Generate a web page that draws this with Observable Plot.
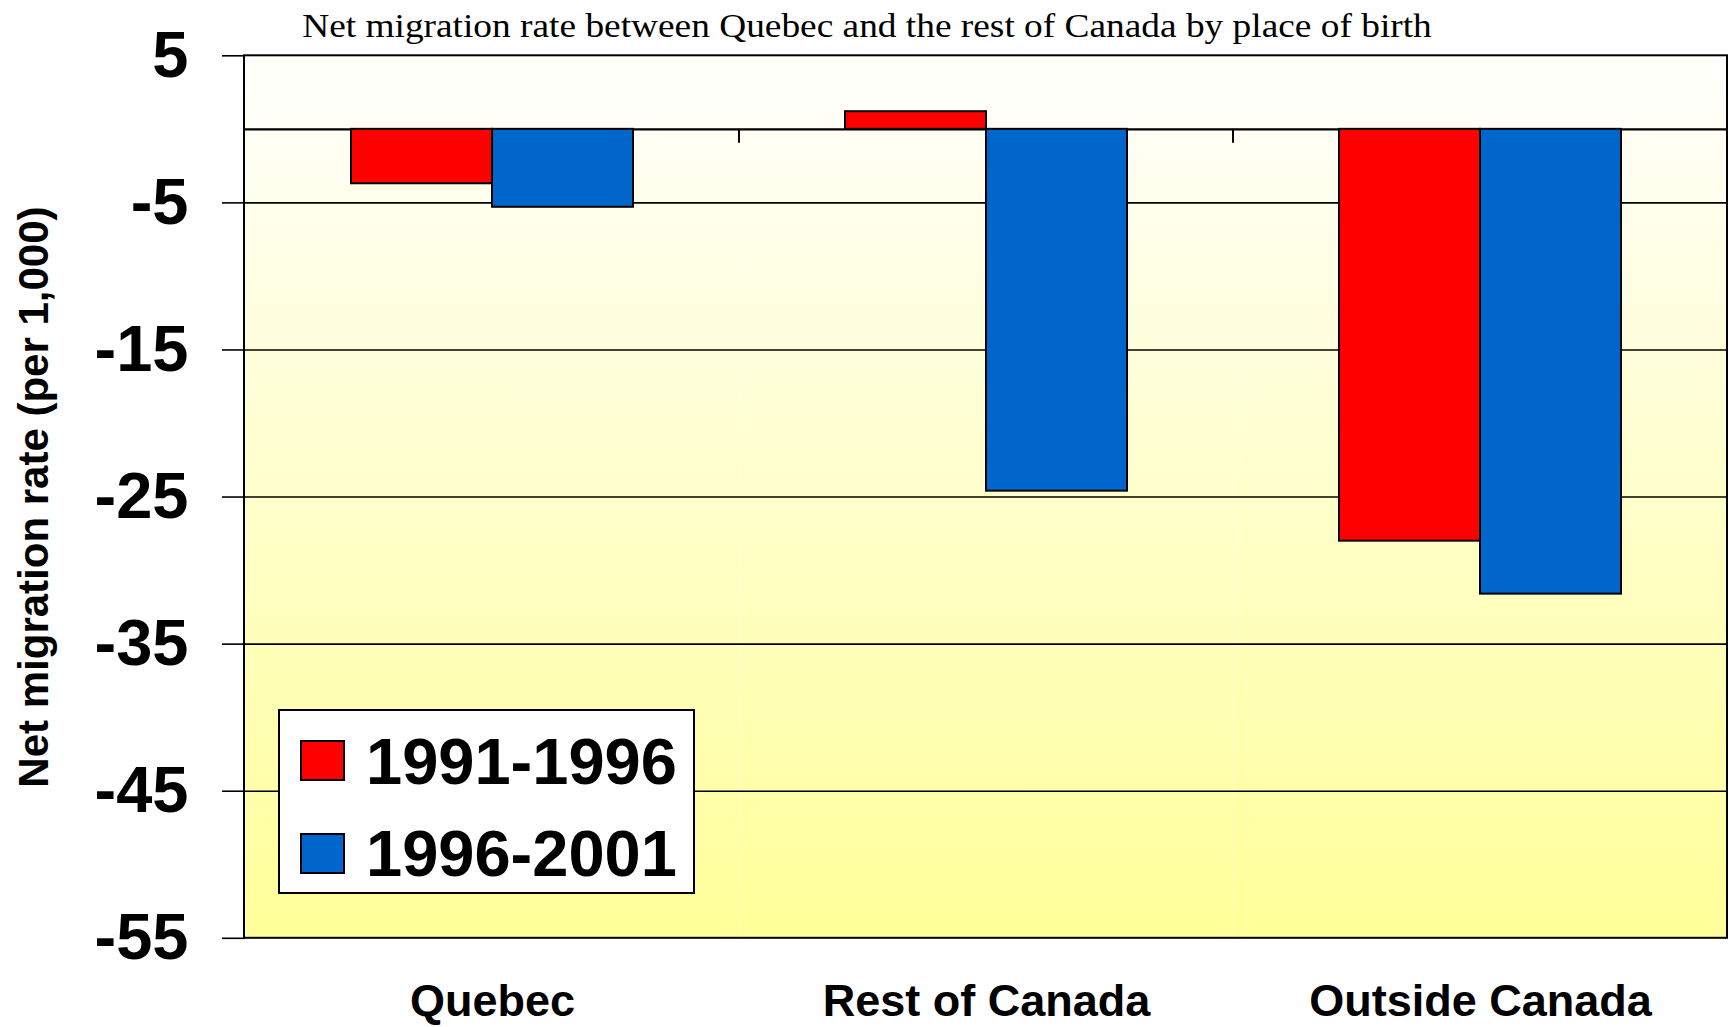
<!DOCTYPE html>
<html>
<head>
<meta charset="utf-8">
<script src="https://cdn.jsdelivr.net/npm/d3@7"></script>
<script src="https://cdn.jsdelivr.net/npm/@observablehq/plot@0.6"></script>
<style>
  html, body { margin: 0; padding: 0; background: #fff; }
  #wrap { position: relative; width: 1734px; height: 1027px; overflow: hidden; }
  #title { height: 40px; line-height: 40px; text-align: center; white-space: nowrap;
           font-family: "Liberation Serif", "Times New Roman", serif; font-size: 33px; color: #000;
           position: relative; top: 5.5px; transform: scaleX(1.132); transform-origin: 867px 50%; }
  #chart { height: 987px; }
  .legend-box { position: absolute; box-sizing: border-box; background: #fff; border: 2px solid #000; }
  .legend-swatch { position: absolute; box-sizing: border-box; border: 2px solid #000; }
  .legend-text { position: absolute; font-family: "Liberation Sans", Arial, sans-serif; font-weight: bold;
                 font-size: 65px; line-height: 65px; color: #000; white-space: nowrap; }
</style>
</head>
<body>
<svg width="0" height="0" style="position:absolute">
  <defs>
    <linearGradient id="bgGrad" x1="0" y1="0" x2="0" y2="1">
      <stop offset="0" stop-color="#FFFFFD"/>
      <stop offset="1" stop-color="#FFFF99"/>
    </linearGradient>
  </defs>
</svg>
<div id="wrap">
  <div id="title"></div>
  <div id="chart"></div>
</div>
<script>
const titleText = "Net migration rate between Quebec and the rest of Canada by place of birth";
const yLabel = "Net migration rate (per 1,000)";
const groups = ["Quebec", "Rest of Canada", "Outside Canada"];
const periods = ["1991-1996", "1996-2001"];
const colors = ["#FF0000", "#0066CC"];
const rate1991 = [-3.7, 1.2, -28.0];
const rate1996 = [-5.3, -24.6, -31.6];
const yTicks = [5, -5, -15, -25, -35, -45, -55];
const gridValues = [-5, -15, -25, -35, -45];

document.getElementById("title").textContent = titleText;

const data = groups.flatMap((g, i) => [
  {group: g, period: periods[0], value: rate1991[i]},
  {group: g, period: periods[1], value: rate1996[i]}
]);

const plot = Plot.plot({
  width: 1734,
  height: 987,
  marginTop: 15.3,
  marginBottom: 89.2,
  marginLeft: 244,
  marginRight: 7,
  style: {fontFamily: "'Liberation Sans', Arial, sans-serif", color: "#000", background: "transparent", overflow: "visible"},
  fx: {domain: groups, padding: 0, label: null, axis: null},
  x: {domain: periods, paddingInner: 0, paddingOuter: 0.748, axis: null},
  y: {domain: [-55, 5], label: null, axis: null},
  color: {domain: periods, range: colors},
  marks: [
    Plot.frame({fill: "url(#bgGrad)", stroke: "none"}),
    Plot.ruleY(gridValues, {stroke: "#000", strokeWidth: 1.6}),
    Plot.ruleY([0], {stroke: "#000", strokeWidth: 2.2}),
    Plot.barY(data, {fx: "group", x: "period", y: "value", fill: "period", stroke: "#000", strokeWidth: 2, inset: 0}),
    Plot.axisY({ticks: yTicks, tickSize: 23, tickPadding: 34, tickFormat: d => String(d),
                fontSize: 65, fontWeight: "bold", strokeWidth: 1.6, label: null}),
    Plot.axisY({ticks: [], tickSize: 0, label: yLabel, labelAnchor: "center", labelOffset: 227, labelArrow: "none",
                fontSize: 42, fontWeight: "bold"}),
    Plot.axisFx({anchor: "bottom", tickSize: 0, tickPadding: 46, fontSize: 45, fontWeight: "bold", label: null})
  ]
});

document.getElementById("chart").appendChild(plot);

// Outer border and category boundary ticks, positioned via Plot's own scales
const svgEl = plot.tagName.toLowerCase() === "svg" ? plot : plot.querySelector("svg");
const svg = d3.select(svgEl);
svg.selectAll("text").each(function () {
  const t = this.textContent;
  if (t.startsWith(yLabel) && t !== yLabel) this.textContent = yLabel;
});
const fx = plot.scale("fx");
const y = plot.scale("y");
const xr = fx.range;
const yTop = y.apply(5), yBot = y.apply(-55), y0 = y.apply(0);
svg.append("g")
  .selectAll("line")
  .data(groups.slice(1))
  .join("line")
  .attr("x1", d => fx.apply(d))
  .attr("x2", d => fx.apply(d))
  .attr("y1", y0)
  .attr("y2", y0 + 14)
  .attr("stroke", "#000")
  .attr("stroke-width", 2);
svg.append("rect")
  .attr("x", Math.min(xr[0], xr[1]))
  .attr("y", yTop)
  .attr("width", Math.abs(xr[1] - xr[0]))
  .attr("height", yBot - yTop)
  .attr("fill", "none")
  .attr("stroke", "#000")
  .attr("stroke-width", 2);

// Legend (HTML overlay)
const wrap = document.getElementById("wrap");
const box = document.createElement("div");
box.className = "legend-box";
Object.assign(box.style, {left: "278px", top: "709px", width: "417px", height: "185px"});
wrap.appendChild(box);
periods.forEach((p, i) => {
  const sw = document.createElement("div");
  sw.className = "legend-swatch";
  Object.assign(sw.style, {left: "300px", top: (740 + i * 92.5) + "px", width: "45px", height: "41px", background: colors[i]});
  wrap.appendChild(sw);
  const tx = document.createElement("div");
  tx.className = "legend-text";
  tx.textContent = p;
  Object.assign(tx.style, {left: "366px", top: (729 + i * 92) + "px"});
  wrap.appendChild(tx);
});
</script>
</body>
</html>
